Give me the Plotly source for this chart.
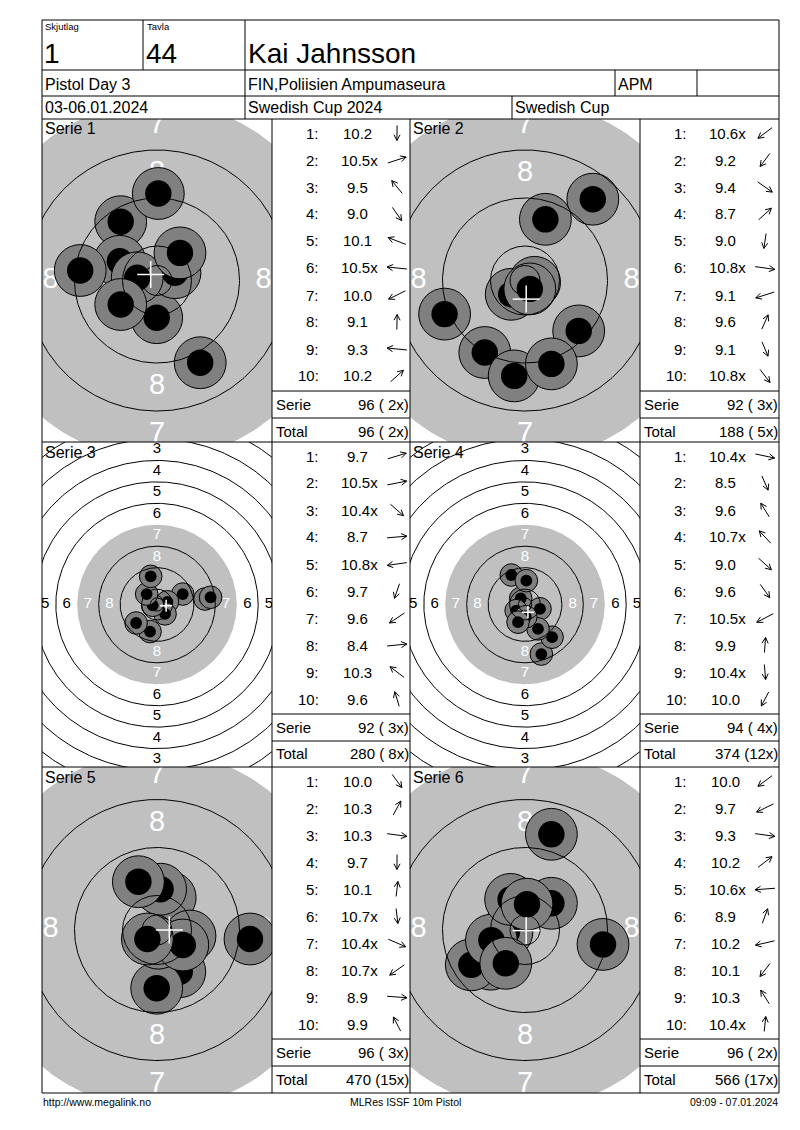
import numpy as np
import plotly.graph_objects as go

W, H = 800, 1130
FONT = "Liberation Sans, Arial, sans-serif"

# header
squad = "1"
lane = "44"
shooter = "Kai Jahnsson"
event = "Pistol Day 3"
club = "FIN,Poliisien Ampumaseura"
club_code = "APM"
dates = "03-06.01.2024"
competition = "Swedish Cup 2024"
cup = "Swedish Cup"
footer_left = "http://www.megalink.no"
footer_mid = "MLRes ISSF 10m Pistol"
footer_right = "09:09 - 07.01.2024"

# shot values per series
scores_1 = ["10.2", "10.5x", "9.5", "9.0", "10.1", "10.5x", "10.0", "9.1", "9.3", "10.2"]
scores_2 = ["10.6x", "9.2", "9.4", "8.7", "9.0", "10.8x", "9.1", "9.6", "9.1", "10.8x"]
scores_3 = ["9.7", "10.5x", "10.4x", "8.7", "10.8x", "9.7", "9.6", "8.4", "10.3", "9.6"]
scores_4 = ["10.4x", "8.5", "9.6", "10.7x", "9.0", "9.6", "10.5x", "9.9", "10.4x", "10.0"]
scores_5 = ["10.0", "10.3", "10.3", "9.7", "10.1", "10.7x", "10.4x", "10.7x", "8.9", "9.9"]
scores_6 = ["10.0", "9.7", "9.3", "10.2", "10.6x", "8.9", "10.2", "10.1", "10.3", "10.4x"]

# shot positions on the target, mm from centre
shots_x_1 = [-0.05, 3.0, -6.05, 7.2, -6.2, -3.3, -6.05, 0.22, -12.8, 3.83]
shots_y_1 = [-6.2, 1.3, 9.8, -13.7, 3.2, 0.45, -4.0, 14.5, 1.67, 4.6]
shots_x_2 = [-2.3, -6.7, 8.95, 11.3, -1.8, 1.6, -13.4, 3.4, 4.4, 0.8]
shots_y_2 = [-2.3, -12.0, -8.4, 13.55, -15.9, -0.3, -5.6, 10.2, -13.9, -1.4]
shots_x_3 = [9.6, 3.9, 3.0, 17.9, -1.6, -2.6, -7.8, 20.0, -3.85, -2.35]
shots_y_3 = [3.9, 1.0, -3.5, 2.05, -0.3, -10.1, -6.9, 2.7, 3.9, 10.5]
shots_x_4 = [5.6, 6.1, -5.1, -1.6, 10.1, 4.85, -3.3, 0.5, 0.3, -2.6]
shots_y_4 = [-1.6, -18.5, 11.0, 2.3, -12.2, -9.1, -2.3, 8.9, -4.6, -6.6]
shots_x_5 = [3.8, 2.2, 5.5, -0.05, 0.6, 0.2, 4.3, -1.6, 15.5, -3.1]
shots_y_5 = [-6.95, 5.4, -1.0, -9.7, 6.8, -2.2, -2.5, -1.5, -1.5, 8.05]
shots_x_6 = [-5.7, -8.95, 13.0, 4.4, -3.0, 4.4, -5.6, -3.2, -2.4, 0.33]
shots_y_6 = [-5.7, -5.8, -2.4, 4.45, -0.3, 15.95, -1.7, -5.55, 5.1, 4.3]

# mean point of impact (white cross) per series, mm
mpi_x = [-1.05, 0.2, 3.4, 1.1, 2.05, 0.2]
mpi_y = [1.0, -3.1, -0.45, -2.9, 0.0, -0.1]

serie_results = ["96 ( 2x)", "92 ( 3x)", "92 ( 3x)", "94 ( 4x)", "96 ( 3x)", "96 ( 2x)"]
total_results = ["96 ( 2x)", "188 ( 5x)", "280 ( 8x)", "374 (12x)", "470 (15x)", "566 (17x)"]

series = [
    (scores_1, shots_x_1, shots_y_1),
    (scores_2, shots_x_2, shots_y_2),
    (scores_3, shots_x_3, shots_y_3),
    (scores_4, shots_x_4, shots_y_4),
    (scores_5, shots_x_5, shots_y_5),
    (scores_6, shots_x_6, shots_y_6),
]

# layout: panel rows (top, bottom), columns (target left, table left, right) in page px,
# and zoom in px per mm for each target
rows = [(119, 442), (442, 767), (767, 1093)]
cols = [(42, 272, 410), (410, 640, 779)]
zoom = [6.0, 6.0, 2.68, 2.68, 6.0, 6.0]


def ring_r(n):
    # ISSF 10m air pistol ring radius (mm)
    return 5.75 + 8 * (10 - n)


def X(x):
    return x / W


def Y(y):
    return 1 - y / H


fig = go.Figure()
shapes = []
annotations = []


def line(x0, y0, x1, y1, w=1):
    shapes.append(dict(type="line", xref="paper", yref="paper",
                       x0=X(x0), y0=Y(y0), x1=X(x1), y1=Y(y1),
                       line=dict(color="black", width=w), layer="above"))


def text(x, y, t, size, xanchor="left", color="black"):
    annotations.append(dict(x=X(x), y=Y(y), xref="paper", yref="paper", text=t,
                            showarrow=False, xanchor=xanchor, yanchor="middle",
                            font=dict(family=FONT, size=size, color=color)))


theta = np.linspace(0, 2 * np.pi, 361)

for i, (scores, sx, sy) in enumerate(series):
    top, bot = rows[i // 2]
    left, mid, right = cols[i % 2]
    s = zoom[i]
    suf = "" if i == 0 else str(i + 1)
    xa, ya = "x" + suf, "y" + suf
    hx = (mid - left) / 2 / s
    hy = (bot - top) / 2 / s
    fig.layout["xaxis" + suf] = dict(domain=[X(left), X(mid)], range=[-hx, hx], visible=False,
                                     anchor=ya, fixedrange=True)
    fig.layout["yaxis" + suf] = dict(domain=[Y(bot), Y(top)], range=[-hy, hy], visible=False,
                                     anchor=xa, fixedrange=True)

    # aiming mark (grey)
    r7 = ring_r(7)
    fig.add_trace(go.Scatter(x=r7 * np.cos(theta), y=r7 * np.sin(theta), mode="lines",
                             fill="toself", fillcolor="#c0c0c0", line=dict(width=0),
                             xaxis=xa, yaxis=ya, hoverinfo="skip"))

    # ring numbers (only those whose centre falls inside the box)
    lx, ly, lt, lc = [], [], [], []
    for n in range(1, 9):
        rr = ring_r(n) - 4
        for dx, dy in [(0, 1), (0, -1), (-1, 0), (1, 0)]:
            if abs(dx * rr) > hx or abs(dy * rr) > hy:
                continue
            lx.append(dx * rr)
            ly.append(dy * rr)
            lt.append(str(n))
            lc.append("white" if n >= 7 else "black")
    fig.add_trace(go.Scatter(x=lx, y=ly, mode="text", text=lt,
                             textfont=dict(family=FONT, size=29 if s > 4 else 15, color=lc),
                             xaxis=xa, yaxis=ya, hoverinfo="skip"))

    # shots: grey halo then black hole, in shot order
    mx, my, ms, mc, mw = [], [], [], [], []
    for x, y in zip(sx, sy):
        mx += [x, x]
        my += [y, y]
        ms += [8.8 * s - 1, 4.4 * s]
        mc += ["#808080", "black"]
        mw += [1, 0]
    fig.add_trace(go.Scatter(x=mx, y=my, mode="markers",
                             marker=dict(size=ms, color=mc, opacity=1,
                                         line=dict(color="black", width=mw)),
                             xaxis=xa, yaxis=ya, hoverinfo="skip"))

    # ring lines
    cx, cy = [], []
    for r in [ring_r(n) for n in [1, 2, 3, 4, 5, 6, 8, 9, 10]] + [2.5]:
        cx += list(r * np.cos(theta)) + [None]
        cy += list(r * np.sin(theta)) + [None]
    fig.add_trace(go.Scatter(x=cx, y=cy, mode="lines", line=dict(color="black", width=1),
                             xaxis=xa, yaxis=ya, hoverinfo="skip"))

    # mean point of impact
    mxp, myp = mpi_x[i], mpi_y[i]
    fig.add_trace(go.Scatter(x=[mxp - 2.25, mxp + 2.25, None, mxp, mxp],
                             y=[myp, myp, None, myp - 2.25, myp + 2.25],
                             mode="lines", line=dict(color="white", width=1.5),
                             xaxis=xa, yaxis=ya, hoverinfo="skip"))

    text(left + 1, top + 10, f"Serie {i + 1}", 16)

    # score table
    for k, sc in enumerate(scores):
        yy = top + 14 + 27 * k
        text(mid + 49, yy, f"{k + 1}:", 15, "right")
        label = sc if sc.endswith("x") else sc + "\u00a0"
        text(mid + 87, yy, label, 15, "center")
        ang = np.arctan2(sy[k], sx[k])
        ax_, ay_ = mid + 125, yy
        ux, uy = np.cos(ang), -np.sin(ang)
        hx0, hy0 = ax_ + 10 * ux, ay_ + 7.5 * uy
        tx0, ty0 = ax_ - 10 * ux, ay_ - 7.5 * uy
        dx, dy = hx0 - tx0, hy0 - ty0
        ln = np.hypot(dx, dy)
        dx, dy = dx / ln, dy / ln
        path = f"M{X(tx0)},{Y(ty0)} L{X(hx0)},{Y(hy0)}"
        for sgn in (1, -1):
            a = np.radians(28) * sgn
            bx = -(dx * np.cos(a) - dy * np.sin(a)) * 6.5
            by = -(dx * np.sin(a) + dy * np.cos(a)) * 6.5
            path += f" M{X(hx0)},{Y(hy0)} L{X(hx0 + bx)},{Y(hy0 + by)}"
        shapes.append(dict(type="path", xref="paper", yref="paper", path=path,
                           line=dict(color="black", width=1), layer="above"))
    line(mid, top + 272, right, top + 272)
    line(mid, top + 299, right, top + 299)
    text(mid + 2, top + 285, "Serie", 15)
    text(right + 1, top + 285, serie_results[i], 15, "right")
    text(mid + 2, top + 312, "Total", 15)
    text(right + 1, top + 312, total_results[i], 15, "right")

# page grid
line(42, 20, 779, 20)
line(42, 1093, 779, 1093)
line(42, 20, 42, 1093)
line(779, 20, 779, 1093)
line(42, 70, 779, 70)
line(42, 96, 779, 96)
line(42, 119, 779, 119)
line(42, 442, 779, 442)
line(42, 767, 779, 767)
line(143, 20, 143, 70)
line(245, 20, 245, 119)
line(615, 70, 615, 96)
line(697, 70, 697, 96)
line(512, 96, 512, 119)
for xx in [272, 410, 640]:
    line(xx, 119, xx, 1093)

text(43, 27, "Skjutlag", 9.5)
text(145, 27, "Tavla", 9.5)
text(42, 53, squad, 28)
text(144, 53, lane, 28)
text(246, 53, shooter, 28)
text(43, 84, event, 16)
text(246, 84, club, 16)
text(616, 84, club_code, 16)
text(43, 108, dates, 16)
text(246, 108, competition, 16)
text(513, 108, cup, 16)
text(41, 1102, footer_left, 10.5)
text(406, 1102, footer_mid, 10.5, "center")
text(780, 1102, footer_right, 10.5, "right")

fig.update_layout(width=W, height=H, margin=dict(l=0, r=0, t=0, b=0),
                  paper_bgcolor="white", plot_bgcolor="white", showlegend=False,
                  hovermode=False, shapes=shapes, annotations=annotations)

fig.write_html("out.html", config={"displayModeBar": False},
               post_script="document.body.style.margin='0';")
